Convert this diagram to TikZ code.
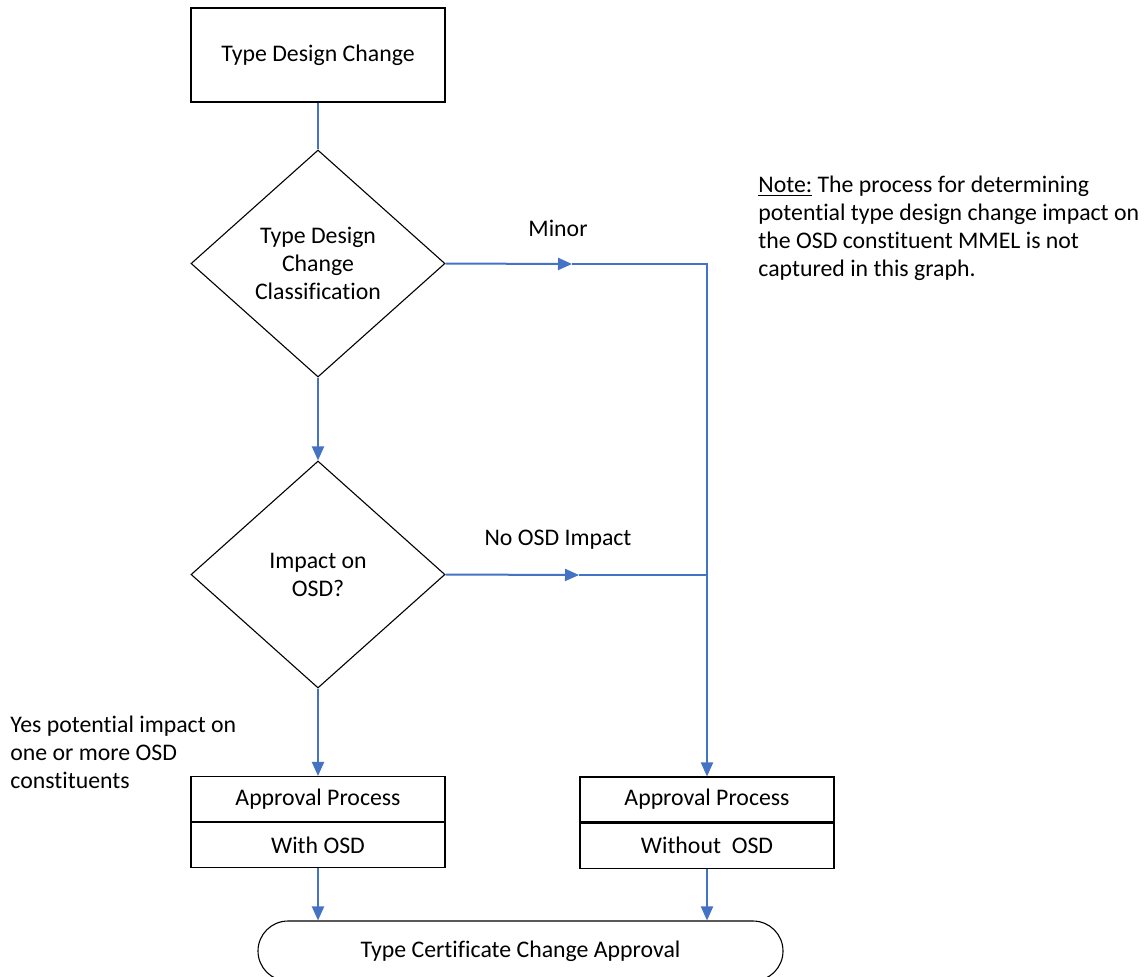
\documentclass[tikz,border=0pt]{standalone}
\usepackage{fontspec}
\setmainfont{Carlito}[Ligatures=NoCommon]
\usepackage{xcolor}
\usetikzlibrary{shapes.geometric,arrows.meta,positioning}
\definecolor{flowblue}{RGB}{68,114,196}

\begin{document}
\begin{tikzpicture}[x=0.5pt,y=-0.5pt,font=\fontsize{11.9}{14}\selectfont,
  block/.style={rectangle,draw,line width=0.55pt,minimum width=127pt,minimum height=47pt,align=center},
  decision/.style={diamond,draw,line width=0.55pt,minimum width=127pt,minimum height=113.5pt,inner sep=0pt,align=center},
  half/.style={rectangle,draw,line width=0.55pt,minimum width=127pt,minimum height=22.5pt,align=center},
  terminal/.style={rectangle,draw,line width=0.55pt,rounded corners=15pt,minimum width=262.5pt,minimum height=30pt},
  lbl/.style={inner sep=0pt,align=left,anchor=west},
  link/.style={flowblue,line width=1pt},
  arrow/.style={-{Triangle[length=7pt,width=6pt]},flowblue,line width=1pt}
]
\useasboundingbox (0,0) rectangle (1145,976);
\node[block] (tdc) at (318,55) {Type Design Change};
\node[decision] (cls) at (318,263.5) {Type Design\\Change\\Classification};
\node[decision] (imp) at (318,574.5) {Impact on\\OSD?};
\node[half] (apw) at (318,799) {Approval Process};
\node[half,below=0pt of apw] (wosd) {With OSD};
\node[half] (apn) at (707,799.5) {Approval Process};
\node[half,below=0pt of apn] (noosd) {Without~~OSD};
\node[terminal] (tcca) at (520.5,951) {Type Certificate Change Approval};
\node (minor) at (558,228) {Minor};
\node (noimp) at (558,540) {No OSD Impact};
\node[lbl] (yes) at (10,752) {Yes potential impact on\\one or more OSD\\constituents};
\node[lbl] (note) at (758,228) {\underline{Note:} The process for determining\\potential type design change impact on\\the OSD constituent MMEL is not\\captured in this graph.};
\coordinate (mnr) at (572,264);
\coordinate (crn) at (707,264);
\coordinate (nomid) at (579,575);
\coordinate (jn) at (707,575);
\draw[link] (tdc) -- (cls);
\draw[arrow] (cls.east) -- (mnr);
\draw[arrow] (mnr) -- (crn) -- (apn.north);
\draw[arrow] (imp.east) -- (nomid);
\draw[link] (nomid) -- (jn);
\draw[arrow] (cls) -- (imp);
\draw[arrow] (imp) -- (apw);
\draw[arrow] (wosd) -- (wosd |- tcca.north);
\draw[arrow] (noosd) -- (noosd |- tcca.north);
\end{tikzpicture}
\end{document}
